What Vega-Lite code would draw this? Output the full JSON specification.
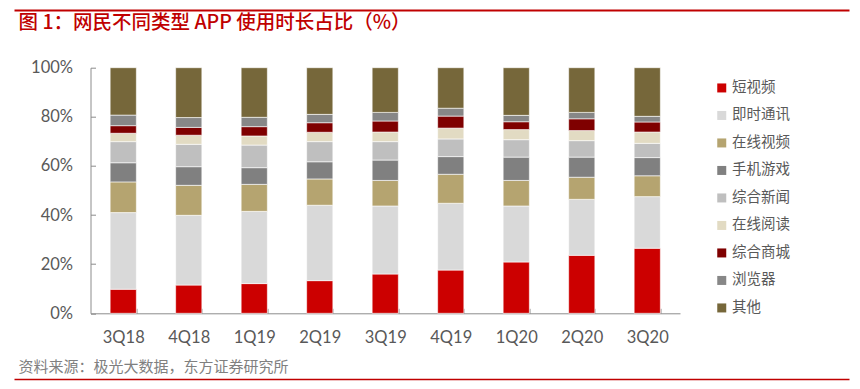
{
  "$schema": "https://vega.github.io/schema/vega-lite/v6.json",
  "width": 589.5,
  "height": 245.6,
  "autosize": "none",
  "padding": {"left": 90.5, "top": 67.7, "right": 180, "bottom": 75.7},
  "background": "white",
  "config": {"view": {"stroke": null}},
  "datasets": {
    "share": [
      {"quarter": "3Q18", "type": "短视频", "share": 9.8},
      {"quarter": "3Q18", "type": "即时通讯", "share": 31.2},
      {"quarter": "3Q18", "type": "在线视频", "share": 12.5},
      {"quarter": "3Q18", "type": "手机游戏", "share": 7.8},
      {"quarter": "3Q18", "type": "综合新闻", "share": 8.6},
      {"quarter": "3Q18", "type": "在线阅读", "share": 3.4},
      {"quarter": "3Q18", "type": "综合商城", "share": 3.1},
      {"quarter": "3Q18", "type": "浏览器", "share": 4.3},
      {"quarter": "3Q18", "type": "其他", "share": 19.3},
      {"quarter": "4Q18", "type": "短视频", "share": 11.5},
      {"quarter": "4Q18", "type": "即时通讯", "share": 28.4},
      {"quarter": "4Q18", "type": "在线视频", "share": 12.2},
      {"quarter": "4Q18", "type": "手机游戏", "share": 7.6},
      {"quarter": "4Q18", "type": "综合新闻", "share": 9.1},
      {"quarter": "4Q18", "type": "在线阅读", "share": 3.7},
      {"quarter": "4Q18", "type": "综合商城", "share": 3.2},
      {"quarter": "4Q18", "type": "浏览器", "share": 4.0},
      {"quarter": "4Q18", "type": "其他", "share": 20.3},
      {"quarter": "1Q19", "type": "短视频", "share": 12.1},
      {"quarter": "1Q19", "type": "即时通讯", "share": 29.4},
      {"quarter": "1Q19", "type": "在线视频", "share": 11.0},
      {"quarter": "1Q19", "type": "手机游戏", "share": 6.8},
      {"quarter": "1Q19", "type": "综合新闻", "share": 9.2},
      {"quarter": "1Q19", "type": "在线阅读", "share": 3.7},
      {"quarter": "1Q19", "type": "综合商城", "share": 3.8},
      {"quarter": "1Q19", "type": "浏览器", "share": 3.8},
      {"quarter": "1Q19", "type": "其他", "share": 20.2},
      {"quarter": "2Q19", "type": "短视频", "share": 13.3},
      {"quarter": "2Q19", "type": "即时通讯", "share": 30.7},
      {"quarter": "2Q19", "type": "在线视频", "share": 10.7},
      {"quarter": "2Q19", "type": "手机游戏", "share": 7.0},
      {"quarter": "2Q19", "type": "综合新闻", "share": 8.2},
      {"quarter": "2Q19", "type": "在线阅读", "share": 3.8},
      {"quarter": "2Q19", "type": "综合商城", "share": 3.9},
      {"quarter": "2Q19", "type": "浏览器", "share": 3.4},
      {"quarter": "2Q19", "type": "其他", "share": 19.0},
      {"quarter": "3Q19", "type": "短视频", "share": 16.0},
      {"quarter": "3Q19", "type": "即时通讯", "share": 27.7},
      {"quarter": "3Q19", "type": "在线视频", "share": 10.4},
      {"quarter": "3Q19", "type": "手机游戏", "share": 8.3},
      {"quarter": "3Q19", "type": "综合新闻", "share": 7.5},
      {"quarter": "3Q19", "type": "在线阅读", "share": 3.9},
      {"quarter": "3Q19", "type": "综合商城", "share": 4.5},
      {"quarter": "3Q19", "type": "浏览器", "share": 3.5},
      {"quarter": "3Q19", "type": "其他", "share": 18.2},
      {"quarter": "4Q19", "type": "短视频", "share": 17.6},
      {"quarter": "4Q19", "type": "即时通讯", "share": 27.2},
      {"quarter": "4Q19", "type": "在线视频", "share": 11.8},
      {"quarter": "4Q19", "type": "手机游戏", "share": 7.2},
      {"quarter": "4Q19", "type": "综合新闻", "share": 7.2},
      {"quarter": "4Q19", "type": "在线阅读", "share": 4.4},
      {"quarter": "4Q19", "type": "综合商城", "share": 4.9},
      {"quarter": "4Q19", "type": "浏览器", "share": 3.2},
      {"quarter": "4Q19", "type": "其他", "share": 16.5},
      {"quarter": "1Q20", "type": "短视频", "share": 20.9},
      {"quarter": "1Q20", "type": "即时通讯", "share": 22.8},
      {"quarter": "1Q20", "type": "在线视频", "share": 10.4},
      {"quarter": "1Q20", "type": "手机游戏", "share": 9.5},
      {"quarter": "1Q20", "type": "综合新闻", "share": 7.1},
      {"quarter": "1Q20", "type": "在线阅读", "share": 4.1},
      {"quarter": "1Q20", "type": "综合商城", "share": 3.2},
      {"quarter": "1Q20", "type": "浏览器", "share": 2.6},
      {"quarter": "1Q20", "type": "其他", "share": 19.4},
      {"quarter": "2Q20", "type": "短视频", "share": 23.6},
      {"quarter": "2Q20", "type": "即时通讯", "share": 22.8},
      {"quarter": "2Q20", "type": "在线视频", "share": 9.0},
      {"quarter": "2Q20", "type": "手机游戏", "share": 8.2},
      {"quarter": "2Q20", "type": "综合新闻", "share": 6.7},
      {"quarter": "2Q20", "type": "在线阅读", "share": 4.1},
      {"quarter": "2Q20", "type": "综合商城", "share": 4.8},
      {"quarter": "2Q20", "type": "浏览器", "share": 2.6},
      {"quarter": "2Q20", "type": "其他", "share": 18.2},
      {"quarter": "3Q20", "type": "短视频", "share": 26.5},
      {"quarter": "3Q20", "type": "即时通讯", "share": 21.0},
      {"quarter": "3Q20", "type": "在线视频", "share": 8.5},
      {"quarter": "3Q20", "type": "手机游戏", "share": 7.4},
      {"quarter": "3Q20", "type": "综合新闻", "share": 5.8},
      {"quarter": "3Q20", "type": "在线阅读", "share": 4.6},
      {"quarter": "3Q20", "type": "综合商城", "share": 4.1},
      {"quarter": "3Q20", "type": "浏览器", "share": 2.3},
      {"quarter": "3Q20", "type": "其他", "share": 19.8}
    ]
  },
  "layer": [
    {
      "data": {"name": "share"},
      "transform": [
        {"window": [{"op": "row_number", "as": "stackOrder"}], "groupby": ["quarter"]}
      ],
      "mark": {"type": "bar", "stroke": "white", "strokeWidth": 0.6},
      "encoding": {
        "x": {
          "field": "quarter",
          "type": "nominal",
          "sort": null,
          "scale": {"paddingInner": 0.6, "paddingOuter": 0.3},
          "axis": {
            "orient": "bottom",
            "title": null,
            "labelAngle": 0,
            "labelFont": "Lato",
            "labelFontSize": 16.5,
            "labelColor": "#595959",
            "labelPadding": 21,
            "domainColor": "#8C8C8C",
            "tickColor": "#8C8C8C",
            "tickSize": -5,
            "tickBand": "extent",
            "grid": false
          }
        },
        "y": {
          "field": "share",
          "type": "quantitative",
          "stack": "zero",
          "scale": {"domain": [0, 100], "nice": false},
          "axis": {
            "title": null,
            "values": [0, 20, 40, 60, 80, 100],
            "labelExpr": "datum.value + '%'",
            "labelFont": "Lato",
            "labelFontSize": 16.5,
            "labelColor": "#595959",
            "labelPadding": 23,
            "domainColor": "#8C8C8C",
            "tickColor": "#8C8C8C",
            "tickSize": -5,
            "grid": false
          }
        },
        "order": {"field": "stackOrder", "type": "quantitative", "sort": "ascending"},
        "color": {
          "field": "type",
          "type": "nominal",
          "sort": ["短视频", "即时通讯", "在线视频", "手机游戏", "综合新闻", "在线阅读", "综合商城", "浏览器", "其他"],
          "scale": {
            "domain": ["短视频", "即时通讯", "在线视频", "手机游戏", "综合新闻", "在线阅读", "综合商城", "浏览器", "其他"],
            "range": ["#CC0000", "#D9D9D9", "#B5A470", "#808080", "#BFBFBF", "#E2DBC3", "#7F0000", "#878787", "#76673A"]
          },
          "legend": {
            "orient": "none",
            "legendX": 624,
            "legendY": 13,
            "title": null,
            "symbolType": "square",
            "symbolSize": 81,
            "symbolStrokeWidth": 0,
            "labelFont": "Noto Sans CJK SC",
            "labelFontSize": 14.5,
            "labelColor": "#595959",
            "labelOffset": 3,
            "rowPadding": 12.5
          }
        }
      }
    },
    {
      "data": {"values": []},
      "mark": "point",
      "encoding": {
        "x": {
          "field": "u",
          "type": "quantitative",
          "scale": {"domain": [0, 1], "range": [-76.5, 758.5], "nice": false, "zero": false},
          "axis": {
            "orient": "top",
            "offset": 57.7,
            "domainColor": "#C00000",
            "domainWidth": 2,
            "ticks": false,
            "labels": false,
            "grid": false,
            "title": "图 1：网民不同类型 APP 使用时长占比（%）",
            "titleX": -72.5,
            "titleY": 12.5,
            "titleAlign": "left",
            "titleBaseline": "middle",
            "titleAngle": 0,
            "titleColor": "#C00000",
            "titleFont": "Noto Sans CJK SC",
            "titleFontSize": 19.5,
            "titleFontWeight": 500
          }
        }
      }
    },
    {
      "data": {"values": []},
      "mark": "point",
      "encoding": {
        "x": {
          "field": "v",
          "type": "quantitative",
          "scale": {"domain": [0, 1], "range": [-76.5, 758.5], "nice": false, "zero": false},
          "axis": {
            "orient": "bottom",
            "offset": 65.7,
            "domainColor": "#C00000",
            "domainWidth": 1.5,
            "ticks": false,
            "labels": false,
            "grid": false,
            "title": "资料来源：极光大数据，东方证券研究所",
            "titleX": -72.5,
            "titleY": -13,
            "titleAlign": "left",
            "titleBaseline": "middle",
            "titleAngle": 0,
            "titleColor": "#808080",
            "titleFont": "Noto Sans CJK SC",
            "titleFontSize": 15,
            "titleFontWeight": "normal"
          }
        }
      }
    }
  ],
  "resolve": {"scale": {"x": "independent"}, "axis": {"x": "independent"}}
}
